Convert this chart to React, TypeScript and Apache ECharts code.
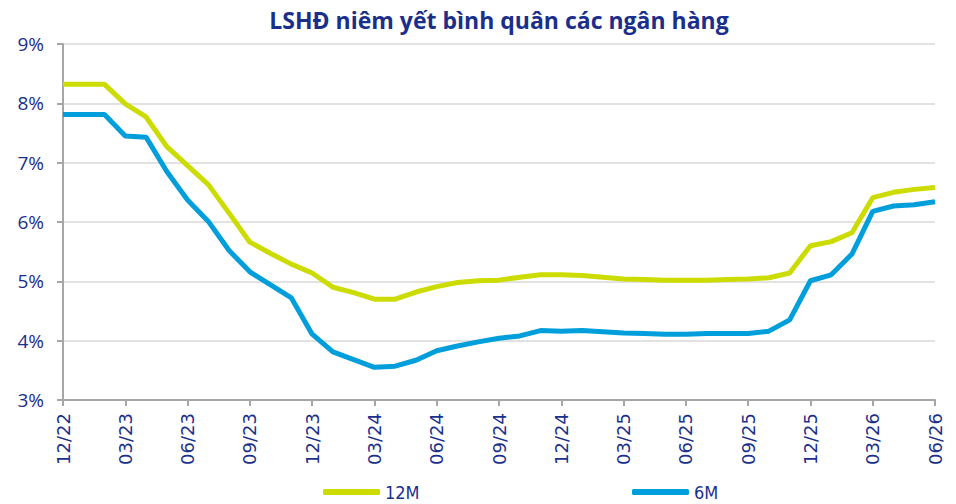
import React, { useEffect, useRef } from "react";
import * as echarts from "echarts";

const months = [
  "12/22", "01/23", "02/23", "03/23", "04/23", "05/23", "06/23", "07/23", "08/23", "09/23", "10/23", "11/23",
  "12/23", "01/24", "02/24", "03/24", "04/24", "05/24", "06/24", "07/24", "08/24", "09/24", "10/24", "11/24",
  "12/24", "01/25", "02/25", "03/25", "04/25", "05/25", "06/25", "07/25", "08/25", "09/25", "10/25", "11/25",
  "12/25", "01/26", "02/26", "03/26", "04/26", "05/26", "06/26",
];

const rate12M = [
  8.32, 8.32, 8.32, 7.99, 7.77, 7.27, 6.95, 6.63, 6.15, 5.66, 5.47, 5.29,
  5.14, 4.9, 4.81, 4.7, 4.7, 4.82, 4.91, 4.98, 5.01, 5.02, 5.07, 5.11,
  5.11, 5.1, 5.07, 5.04, 5.03, 5.02, 5.02, 5.02, 5.03, 5.04, 5.06, 5.14,
  5.6, 5.67, 5.82, 6.41, 6.5, 6.55, 6.58,
];

const rate6M = [
  7.81, 7.81, 7.81, 7.45, 7.43, 6.85, 6.37, 6.01, 5.52, 5.16, 4.94, 4.72,
  4.11, 3.81, 3.68, 3.55, 3.57, 3.67, 3.83, 3.91, 3.98, 4.04, 4.08, 4.17,
  4.16, 4.17, 4.15, 4.13, 4.12, 4.11, 4.11, 4.12, 4.12, 4.12, 4.16, 4.35,
  5.01, 5.11, 5.46, 6.18, 6.27, 6.29, 6.34,
];

const titleText = "LSHĐ niêm yết bình quân các ngân hàng";
const navy = "#1a2f8c";
const yellow = "#cddc00";
const blue = "#009fdb";

const legendCommon = {
  top: 482,
  padding: 0,
  itemWidth: 57,
  itemHeight: 6,
  icon: "roundRect",
  textStyle: { fontFamily: "DejaVu Sans Condensed", fontSize: 18, lineHeight: 20, color: navy },
};

export default function App() {
  const ref = useRef<HTMLDivElement>(null);
  useEffect(() => {
    if (!ref.current) return;
    const chart = echarts.init(ref.current, undefined, { renderer: "svg" });
    chart.setOption({
      animation: false,
      backgroundColor: "#ffffff",
      title: {
        text: titleText,
        left: 494,
        textAlign: "center",
        top: 3,
        textStyle: { fontFamily: "Open Sans", fontWeight: "bold", fontSize: 23, color: navy },
      },
      legend: [
        { ...legendCommon, left: 323, data: ["12M"] },
        { ...legendCommon, left: 632, data: ["6M"] },
      ],
      grid: { left: 63, right: 21, top: 44, bottom: 104, containLabel: false },
      xAxis: {
        type: "category",
        data: months,
        boundaryGap: false,
        axisLine: { lineStyle: { color: "#a6a6a6", width: 2 } },
        axisTick: { show: true, interval: 2, length: 6, lineStyle: { color: "#a6a6a6", width: 2 } },
        axisLabel: {
          interval: 2,
          rotate: 90,
          margin: 13,
          fontFamily: "DejaVu Sans",
          fontSize: 18,
          color: navy,
        },
        splitLine: { show: false },
      },
      yAxis: {
        type: "value",
        min: 3,
        max: 9,
        interval: 1,
        axisLine: { show: true, lineStyle: { color: "#a6a6a6", width: 2 } },
        axisTick: { show: true, length: 6, lineStyle: { color: "#a6a6a6", width: 2 } },
        axisLabel: {
          formatter: "{value}%",
          fontFamily: "Open Sans",
          fontSize: 19,
          color: navy,
          margin: 19,
        },
        splitLine: { lineStyle: { color: "#d9d9d9", width: 1.5 } },
      },
      series: [
        {
          name: "12M",
          type: "line",
          data: rate12M,
          showSymbol: false,
          symbol: "none",
          lineStyle: { color: yellow, width: 5 },
          itemStyle: { color: yellow },
        },
        {
          name: "6M",
          type: "line",
          data: rate6M,
          showSymbol: false,
          symbol: "none",
          lineStyle: { color: blue, width: 5 },
          itemStyle: { color: blue },
        },
      ],
    });
    return () => chart.dispose();
  }, []);
  return <div ref={ref} style={{ width: 956, height: 504, position: "absolute", left: 0, top: 0 }} />;
}
